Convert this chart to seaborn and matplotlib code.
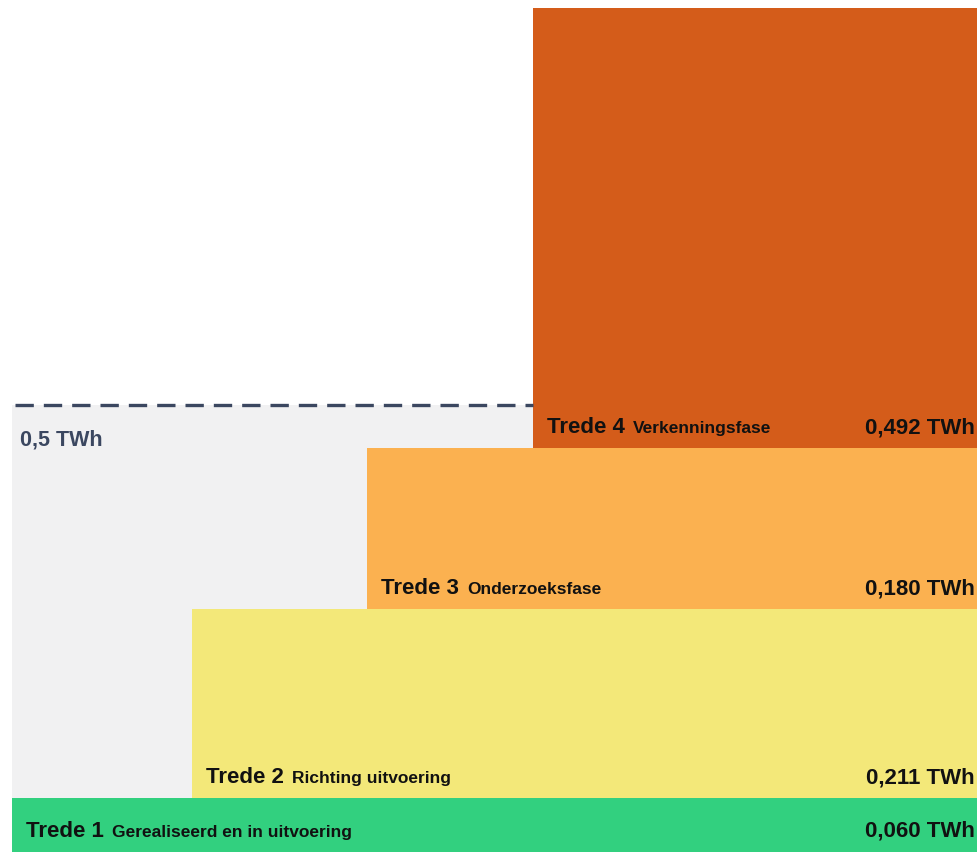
import matplotlib
matplotlib.use("Agg")
import matplotlib.pyplot as plt
import seaborn as sns

# data: steps of the ladder (bottom to top)
steps = ["Trede 1", "Trede 2", "Trede 3", "Trede 4"]
phases = ["Gerealiseerd en in uitvoering", "Richting uitvoering", "Onderzoeksfase", "Verkenningsfase"]
values_twh = [0.060, 0.211, 0.180, 0.492]
value_labels = ["0,060 TWh", "0,211 TWh", "0,180 TWh", "0,492 TWh"]
target_twh = 0.5
target_label = "0,5 TWh"

# layout / style
step_start = [12, 192, 367, 533]  # left edge of each step (pixel-like x units)
x_right = 978
colors = ["#32d07f", "#f3e879", "#fbb150", "#d45c1a"]
grey = "#f1f1f2"
slate = "#3b4760"

sns.set_theme(style="white")
plt.rcParams["font.family"] = ["Liberation Sans", "DejaVu Sans"]

fig = plt.figure(figsize=(9.78, 8.52), dpi=100)
ax = fig.add_axes([0, 0, 1, 1])
ax.set_xlim(0, x_right)
ax.set_ylim(0, 0.952)
ax.axis("off")

# grey band up to the 0.5 TWh target
ax.bar(step_start[0], target_twh, width=step_start[3] - step_start[0],
       align="edge", color=grey, linewidth=0, zorder=1)

bottoms = []
b = 0
for v in values_twh:
    bottoms.append(b)
    b += v

for i in range(len(steps)):
    ax.bar(step_start[i], values_twh[i], bottom=bottoms[i],
           width=x_right - step_start[i], align="edge",
           color=colors[i], linewidth=0, zorder=2)

ax.plot([15, step_start[3]], [target_twh, target_twh], color=slate,
        linewidth=2.4, dashes=(5.5, 3), zorder=3)
ax.annotate(target_label, (20, target_twh), xytext=(0, -41), textcoords="offset pixels",
            fontsize=15.5, fontweight="bold", color=slate, va="baseline", ha="left")

fig.canvas.draw()
renderer = fig.canvas.get_renderer()
base_off = 15
for i in range(len(steps)):
    x0 = step_start[i] + 14
    y0 = bottoms[i]
    t = ax.annotate(steps[i], (x0, y0), xytext=(0, base_off), textcoords="offset pixels",
                    fontsize=16, fontweight="bold", color="#111111",
                    va="baseline", ha="left", zorder=4)
    bb = t.get_window_extent(renderer)
    ax.annotate(phases[i], (x0, y0), xytext=(bb.width + 8, base_off), textcoords="offset pixels",
                fontsize=12.5, fontweight="bold", color="#111111",
                va="baseline", ha="left", zorder=4)
    ax.annotate(value_labels[i], (x_right - 3, y0), xytext=(0, base_off), textcoords="offset pixels",
                fontsize=16, fontweight="bold", color="#111111",
                va="baseline", ha="right", zorder=4)

fig.savefig("out.png", dpi=100)
